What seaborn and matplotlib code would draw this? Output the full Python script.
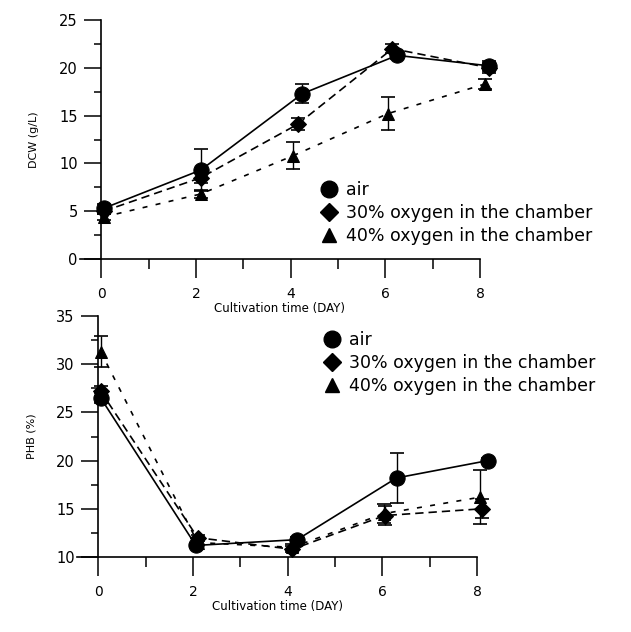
import numpy as np
import pandas as pd
import matplotlib
matplotlib.use('Agg')
import matplotlib.pyplot as plt
from matplotlib.lines import Line2D
from matplotlib.ticker import MultipleLocator
import seaborn as sns

# Dados
series = ['air', '30% oxygen in the chamber', '40% oxygen in the chamber']

# DCW (g/L)
dcw_time_air = [0.05, 2.1, 4.25, 6.25, 8.2]
dcw_time_30 = [0.05, 2.1, 4.15, 6.15, 8.2]
dcw_time_40 = [0.05, 2.1, 4.05, 6.05, 8.1]
dcw_air = [5.3, 9.3, 17.3, 21.3, 20.2]
dcw_30 = [5.0, 8.5, 14.1, 22.0, 20.0]
dcw_40 = [4.4, 6.8, 10.8, 15.2, 18.3]
dcw_air_err = [0.5, 2.2, 1.0, 0.4, 0.5]
dcw_30_err = [0.3, 0.5, 0.6, 0.5, 0.5]
dcw_40_err = [0.3, 0.4, 1.4, 1.7, 0.5]

# PHB (%)
phb_time_air = [0.05, 2.06, 4.2, 6.3, 8.23]
phb_time_30 = [0.05, 2.1, 4.1, 6.05, 8.1]
phb_time_40 = [0.05, 2.1, 4.1, 6.03, 8.06]
phb_air = [26.5, 11.2, 11.8, 18.2, 20.0]
phb_30 = [27.2, 12.0, 10.8, 14.3, 15.0]
phb_40 = [31.3, 11.5, 11.0, 14.5, 16.2]
phb_air_err = [0.5, 0.3, 0.3, 2.6, 0.3]
phb_30_err = [0.5, 0.3, 0.3, 1.0, 1.0]
phb_40_err = [1.6, 0.3, 0.3, 1.0, 2.8]

day_ticks = [0, 2, 4, 6, 8]

sns.set_style('ticks')
plt.rcParams['font.family'] = ['DejaVu Sans']
plt.rcParams['text.color'] = 'black'
plt.rcParams['axes.labelcolor'] = 'black'
plt.rcParams['xtick.color'] = 'black'
plt.rcParams['ytick.color'] = 'black'
plt.rcParams['axes.edgecolor'] = 'black'

markers = {'air': 'o', '30% oxygen in the chamber': 'D', '40% oxygen in the chamber': '^'}
msizes = {'air': 11, '30% oxygen in the chamber': 8, '40% oxygen in the chamber': 9}
dashes = {'air': None, '30% oxygen in the chamber': (5, 3), '40% oxygen in the chamber': (3, 5)}


def build_df(times, vals, errs):
    rows = []
    for s, t, v, e in zip(series, times, vals, errs):
        for ti, vi, ei in zip(t, v, e):
            rows.append({'time': ti, 'value': vi, 'err': ei, 'group': s})
    return pd.DataFrame(rows)


def draw_panel(ax, df, ylim, ystep, ylabel, legend_anchor):
    for s in series:
        sub = df[df['group'] == s]
        sns.lineplot(data=sub, x='time', y='value', ax=ax, color='black',
                     linewidth=1.2, marker=markers[s], markersize=msizes[s],
                     markeredgecolor='black', markerfacecolor='black',
                     clip_on=False, zorder=3)
        if dashes[s] is not None:
            ax.lines[-1].set_dashes(dashes[s])
        ax.errorbar(sub['time'], sub['value'], yerr=sub['err'], fmt='none',
                    ecolor='black', elinewidth=1.0, capsize=5, capthick=1.2,
                    clip_on=False, zorder=2)

    ax.set_xlim(-0.45, 8.0)
    ax.set_ylim(*ylim)
    ax.spines['left'].set_position(('data', 0))
    ax.spines['top'].set_visible(False)
    ax.spines['right'].set_visible(False)
    ax.spines['left'].set_linewidth(1.2)
    ax.spines['bottom'].set_linewidth(1.2)
    ax.set_xticks(day_ticks)
    ax.xaxis.set_minor_locator(MultipleLocator(1))
    ax.yaxis.set_major_locator(MultipleLocator(ystep))
    ax.yaxis.set_minor_locator(MultipleLocator(ystep / 2))
    ax.tick_params(axis='x', which='major', length=14, width=1.1, labelsize=10, pad=6)
    ax.tick_params(axis='x', which='minor', length=7, width=1.1)
    ax.tick_params(axis='y', which='major', length=12, width=1.1, labelsize=10.5, pad=5)
    ax.tick_params(axis='y', which='minor', length=5, width=1.1)
    ax.set_xlabel('Cultivation time (DAY)', fontsize=8.5, labelpad=1)
    ax.set_ylabel(ylabel, fontsize=8, labelpad=14)

    handles = [Line2D([], [], linestyle='none', marker=markers[s], color='black',
                      markersize=msizes[s] + 1) for s in series]
    ax.legend(handles, series, loc='upper left', bbox_to_anchor=legend_anchor,
              bbox_transform=fig.transFigure, frameon=False, fontsize=12.5,
              handlelength=0.8, handletextpad=0.6, labelspacing=0.3,
              borderpad=0, borderaxespad=0)


fig = plt.figure(figsize=(6.31, 6.32), dpi=100)
ax_top = fig.add_axes([80 / 631, 1 - 259 / 632, 400 / 631, 239 / 632])
ax_bot = fig.add_axes([77 / 631, 1 - 557 / 632, 400 / 631, 241 / 632])

df_dcw = build_df([dcw_time_air, dcw_time_30, dcw_time_40],
                  [dcw_air, dcw_30, dcw_40], [dcw_air_err, dcw_30_err, dcw_40_err])
df_phb = build_df([phb_time_air, phb_time_30, phb_time_40],
                  [phb_air, phb_30, phb_40], [phb_air_err, phb_30_err, phb_40_err])

draw_panel(ax_top, df_dcw, (0, 25), 5, 'DCW (g/L)', (322 / 631, 1 - 181 / 632))
draw_panel(ax_bot, df_phb, (10, 35), 5, 'PHB (%)', (325 / 631, 1 - 331 / 632))

plt.savefig('out.png', dpi=100)
